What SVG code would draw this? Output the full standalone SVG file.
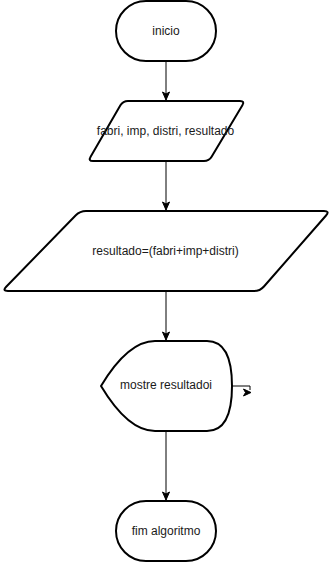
<svg xmlns="http://www.w3.org/2000/svg" width="332" height="562" viewBox="0 0 332 562">
  <style>
    .shape { fill: #ffffff; stroke: #000000; stroke-width: 2; stroke-linejoin: round; }
    .edge { fill: none; stroke: #000000; stroke-width: 1; }
    .label { font-family: "Liberation Sans", Arial, sans-serif; font-size: 12px; fill: #1a1a1a; text-anchor: middle; dominant-baseline: central; }
  </style>
  <defs>
    <marker id="arrow" markerUnits="userSpaceOnUse" markerWidth="10" markerHeight="10" viewBox="0 0 10 10" refX="9" refY="5" orient="auto">
      <path d="M1,1.5 L9,5 L1,8.5 L3,5 Z" fill="#000000" stroke="#000000" stroke-width="1"/>
    </marker>
  </defs>

  <rect width="332" height="562" fill="#ffffff"/>

  <!-- connectors -->
  <g id="connectors">
    <path class="edge" d="M166,61 V100" marker-end="url(#arrow)"/>
    <path class="edge" d="M166,161 V210" marker-end="url(#arrow)"/>
    <path class="edge" d="M166,291 V340" marker-end="url(#arrow)"/>
    <path class="edge" d="M166,431 V500" marker-end="url(#arrow)"/>
    <path class="edge" d="M232,386 H250 V390"/>
    <path d="M243.5,389 L251,392.5 L243.5,396 L245.5,392.5 Z" fill="#000000" stroke="#000000" stroke-width="1"/>
  </g>

  <!-- start terminal -->
  <g id="inicio">
    <rect class="shape" x="116" y="1" width="100" height="60" rx="30" ry="30"/>
    <text class="label" x="166" y="31">inicio</text>
  </g>

  <!-- input data -->
  <g id="entrada">
    <path class="shape" d="M128,101 H240 Q245,101 242.4,105.3 L211.6,156.7 Q209,161 204,161 H93 Q88,161 90.6,156.7 L120.4,105.3 Q123,101 128,101 Z"/>
    <text class="label" x="165.5" y="131">fabri, imp, distri, resultado</text>
  </g>

  <!-- calculation -->
  <g id="calculo">
    <path class="shape" d="M86,211 H324 Q330,211 326.05,215.51 L263.95,286.49 Q260,291 254,291 H8 Q2,291 6.19,286.7 L75.81,215.3 Q80,211 86,211 Z"/>
    <text class="label" x="165.5" y="251">resultado=(fabri+imp+distri)</text>
  </g>

  <!-- display -->
  <g id="saida">
    <path class="shape" d="M155,341 H207 Q232,341 232,386 Q232,431 207,431 H155 Q128,431 101,386 Q128,341 155,341 Z"/>
    <text class="label" x="166" y="385">mostre resultadoi</text>
  </g>

  <!-- end terminal -->
  <g id="fim">
    <rect class="shape" x="116" y="501" width="100" height="60" rx="30" ry="30"/>
    <text class="label" x="166" y="531">fim algoritmo</text>
  </g>
</svg>
